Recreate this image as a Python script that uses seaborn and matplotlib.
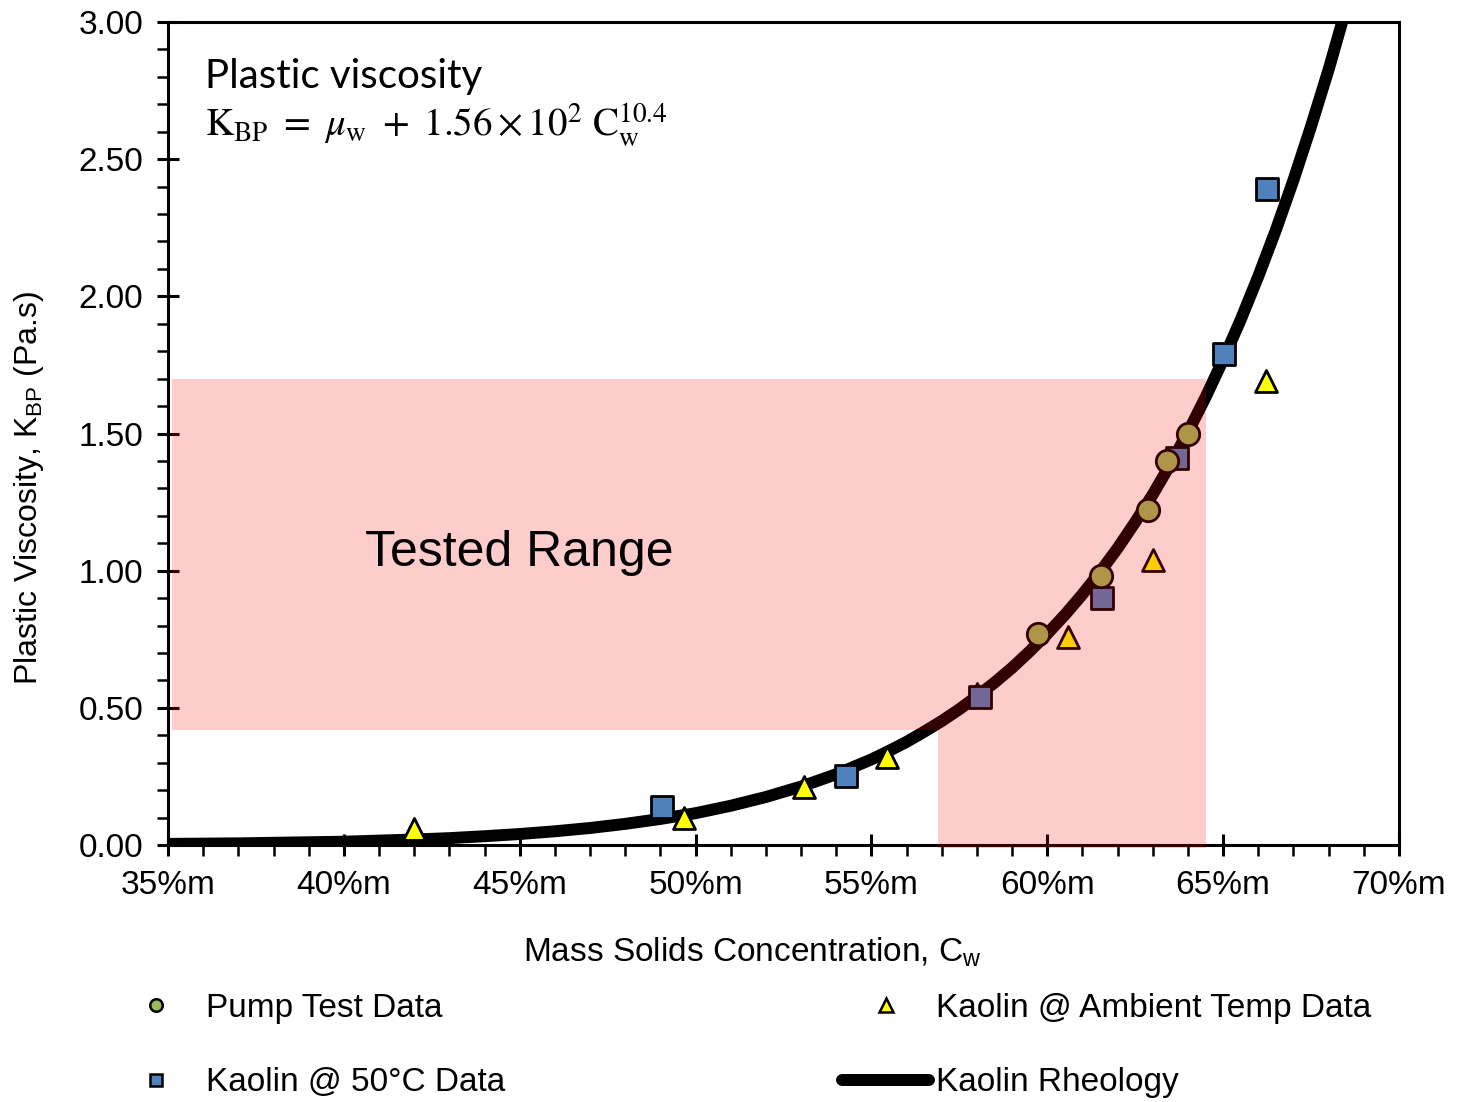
import matplotlib
matplotlib.use("Agg")
import matplotlib.pyplot as plt
import seaborn as sns
import pandas as pd
from matplotlib.ticker import MultipleLocator, FuncFormatter
from matplotlib.lines import Line2D
from matplotlib.patches import Polygon

# ---------------- data ----------------
pump_x = [59.74, 61.53, 62.86, 63.40, 64.00]
pump_y = [0.77, 0.98, 1.22, 1.40, 1.50]

hot_x = [49.05, 54.28, 58.09, 61.56, 63.69, 65.03, 66.25]
hot_y = [0.14, 0.25, 0.54, 0.90, 1.41, 1.79, 2.39]

amb_x = [42.0, 49.67, 53.08, 55.44, 58.0, 60.59, 63.0, 66.22]
amb_y = [0.06, 0.10, 0.21, 0.32, 0.55, 0.76, 1.04, 1.69]

# Kaolin rheology curve (K_BP = mu_w + 1.56e2 Cw^10.4)
curve_x = [35, 36, 37, 38, 39, 40, 41, 42, 43, 44, 45, 46, 47, 48, 49, 50, 51, 52,
           53, 54, 55, 55.5, 56, 56.5, 57, 57.5, 58, 58.5, 59, 59.5, 60, 60.5, 61,
           61.5, 62, 62.5, 63, 63.5, 64, 64.5, 65, 65.5, 66, 66.5, 67, 67.5, 68,
           68.5, 69]
curve_y = [0.004, 0.005, 0.006, 0.008, 0.010, 0.012, 0.016, 0.020, 0.025, 0.032,
           0.040, 0.050, 0.062, 0.077, 0.095, 0.116, 0.143, 0.175, 0.213, 0.258,
           0.312, 0.343, 0.376, 0.413, 0.452, 0.495, 0.542, 0.592, 0.646, 0.706,
           0.770, 0.839, 0.914, 0.995, 1.082, 1.177, 1.278, 1.388, 1.505, 1.632,
           1.769, 1.915, 2.073, 2.242, 2.424, 2.620, 2.827, 3.052, 3.290]

range_x = [35.1, 56.9, 64.5]    # left, step, right of tested range
range_y = [-0.012, 0.42, 1.70]  # bottom, step, top

labels = ["Pump Test Data", "Kaolin @ 50°C Data",
          "Kaolin @ Ambient Temp Data", "Kaolin Rheology"]

# ---------------- style ----------------
sns.set_theme(style="white")
plt.rcParams["font.family"] = ["Liberation Sans", "DejaVu Sans"]
plt.rcParams["text.color"] = "black"
plt.rcParams["mathtext.fontset"] = "custom"
plt.rcParams["mathtext.rm"] = "Liberation Sans"
plt.rcParams["mathtext.it"] = "Liberation Sans:italic"

fig = plt.figure(figsize=(14.58, 11.02), dpi=100)
ax = fig.add_axes([168 / 1458, 1 - 845 / 1102, (1399 - 168) / 1458, (845 - 22) / 1102])

curve_df = pd.DataFrame({"x": curve_x, "y": curve_y})
sns.lineplot(data=curve_df, x="x", y="y", ax=ax, color="black", linewidth=8.6,
             sort=False, errorbar=None, zorder=2, solid_capstyle="butt",
             solid_joinstyle="round")

sns.scatterplot(x=amb_x, y=amb_y, ax=ax, marker="^", s=250, color="#ffff00",
                edgecolor="black", linewidth=2.0, zorder=3)
sns.scatterplot(x=hot_x, y=hot_y, ax=ax, marker="s", s=240, color="#4f81bd",
                edgecolor="black", linewidth=2.0, zorder=4)
sns.scatterplot(x=pump_x, y=pump_y, ax=ax, marker="o", s=260, color="#9bbb59",
                edgecolor="black", linewidth=2.0, zorder=5)

# tested range overlay (semi-transparent red on top of the data)
poly = Polygon([(range_x[0], range_y[1]), (range_x[1], range_y[1]),
                (range_x[1], range_y[0]), (range_x[2], range_y[0]),
                (range_x[2], range_y[2]), (range_x[0], range_y[2])],
               closed=True, facecolor=(1, 0, 0, 0.2), edgecolor="none",
               zorder=6, clip_on=False)
ax.add_patch(poly)

ax.set_xlim(35, 70)
ax.set_ylim(0, 3)
ax.xaxis.set_major_locator(MultipleLocator(5))
ax.xaxis.set_minor_locator(MultipleLocator(1))
ax.yaxis.set_major_locator(MultipleLocator(0.5))
ax.yaxis.set_minor_locator(MultipleLocator(0.1))
ax.xaxis.set_major_formatter(FuncFormatter(lambda v, p: f"{v:.0f}%m"))
ax.yaxis.set_major_formatter(FuncFormatter(lambda v, p: f"{v:.2f}"))
ax.tick_params(axis="both", which="major", direction="inout", length=16,
               width=2.2, labelsize=24, color="black", labelcolor="black")
ax.tick_params(axis="both", which="minor", direction="out", length=8,
               width=1.8, color="black")
ax.tick_params(axis="x", which="major", pad=10)
ax.tick_params(axis="y", which="major", pad=10)
ax.tick_params(bottom=True, left=True, which="both")
for sp in ax.spines.values():
    sp.set_color("black")
    sp.set_linewidth(2.2)
    sp.set_visible(True)

ax.set_xlabel("Mass Solids Concentration, C$_\\mathrm{w}$", fontsize=24, color="black")
ax.set_ylabel("Plastic Viscosity, K$_\\mathrm{BP}$ (Pa.s)", fontsize=23, color="black")
ax.xaxis.set_label_coords((752 - 168) / 1231, -(936 - 845) / 823)
ax.yaxis.set_label_coords(-(168 - 46) / 1231, (845 - 488) / 823)

ax.text(36.05, 2.76, "Plastic viscosity", fontsize=29, family=["Lato", "DejaVu Sans"],
        va="baseline", ha="left", color="black", zorder=8)
ax.text(36.05, 2.585,
        r"$\mathrm{K_{BP}}\ =\ \mu_\mathrm{w}\ +\ 1.56\times10^{2}\ \mathrm{C}_\mathrm{w}^{10.4}$",
        fontsize=28, math_fontfamily="stix", va="baseline", ha="left",
        color="black", zorder=8)
ax.text(40.6, 1.064, "Tested Range", fontsize=36, va="center", ha="left",
        color="black", zorder=8)

handles = [
    Line2D([], [], linestyle="none", marker="o", markersize=9, markerfacecolor="#9bbb59",
           markeredgecolor="black", markeredgewidth=1.8),
    Line2D([], [], linestyle="none", marker="s", markersize=9, markerfacecolor="#4f81bd",
           markeredgecolor="black", markeredgewidth=1.8),
    Line2D([], [], linestyle="none", marker="^", markersize=10, markerfacecolor="#ffff00",
           markeredgecolor="black", markeredgewidth=1.8),
    Line2D([], [], color="black", linewidth=8.6, solid_capstyle="round"),
]
fig.legend(handles, labels, ncol=2, loc="upper left",
           bbox_to_anchor=(113 / 1458, 1 - 993 / 1102), frameon=False,
           fontsize=24, handlelength=2.6, handletextpad=0.2, labelcolor="black",
           columnspacing=10.1, labelspacing=1.3, borderpad=0, borderaxespad=0)

fig.savefig("out.png", dpi=100)
